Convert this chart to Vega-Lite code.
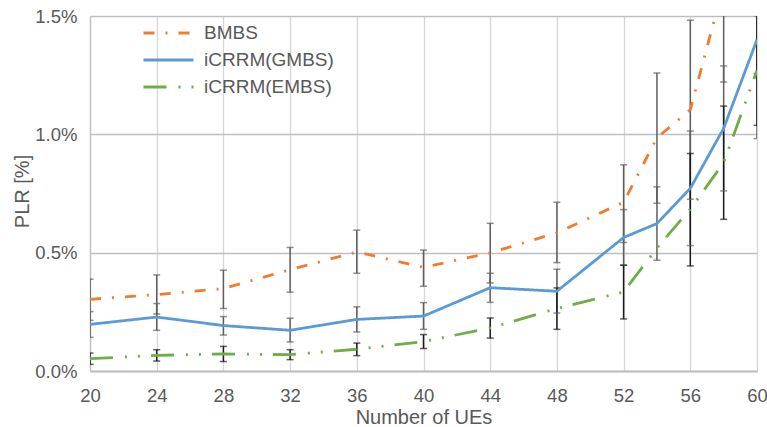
{
  "$schema": "https://vega.github.io/schema/vega-lite/v6.json",
  "width": 667,
  "height": 355,
  "autosize": {"type": "none"},
  "padding": {"left": 90, "top": 16, "right": 10, "bottom": 56},
  "background": "white",
  "config": {
    "view": {"stroke": null},
    "font": "Liberation Sans",
    "legend": {
      "orient": "none",
      "legendX": 52,
      "legendY": 7,
      "padding": 0,
      "symbolType": "stroke",
      "symbolSize": 2500,
      "symbolStrokeWidth": 3,
      "clipHeight": 20,
      "rowPadding": 7,
      "labelOffset": 9,
      "labelFontSize": 19,
      "labelColor": "#595959",
      "labelFont": "Liberation Sans"
    }
  },
  "data": {
    "values": [
      {"n": 20, "series": "BMBS", "plr": 0.303, "lo": 0.214, "hi": 0.388},
      {"n": 24, "series": "BMBS", "plr": 0.323, "lo": 0.241, "hi": 0.406},
      {"n": 28, "series": "BMBS", "plr": 0.348, "lo": 0.264, "hi": 0.426},
      {"n": 32, "series": "BMBS", "plr": 0.428, "lo": 0.333, "hi": 0.522},
      {"n": 36, "series": "BMBS", "plr": 0.503, "lo": 0.413, "hi": 0.595},
      {"n": 40, "series": "BMBS", "plr": 0.438, "lo": 0.358, "hi": 0.511},
      {"n": 44, "series": "BMBS", "plr": 0.499, "lo": 0.372, "hi": 0.624},
      {"n": 48, "series": "BMBS", "plr": 0.584, "lo": 0.458, "hi": 0.713},
      {"n": 52, "series": "BMBS", "plr": 0.713, "lo": 0.543, "hi": 0.871},
      {"n": 54, "series": "BMBS", "plr": 0.985, "lo": 0.709, "hi": 1.259},
      {"n": 56, "series": "BMBS", "plr": 1.104, "lo": 0.726, "hi": 1.482},
      {"n": 58, "series": "BMBS", "plr": 1.63, "lo": 1.221, "hi": 2.04},
      {"n": 60, "series": "BMBS", "plr": 2.2, "lo": 1.257, "hi": 3.14},
      {"n": 20, "series": "iCRRM(GMBS)", "plr": 0.197, "lo": 0.142, "hi": 0.251},
      {"n": 24, "series": "iCRRM(GMBS)", "plr": 0.228, "lo": 0.172, "hi": 0.285},
      {"n": 28, "series": "iCRRM(GMBS)", "plr": 0.192, "lo": 0.152, "hi": 0.23},
      {"n": 32, "series": "iCRRM(GMBS)", "plr": 0.172, "lo": 0.123, "hi": 0.223},
      {"n": 36, "series": "iCRRM(GMBS)", "plr": 0.218, "lo": 0.165, "hi": 0.271},
      {"n": 40, "series": "iCRRM(GMBS)", "plr": 0.232, "lo": 0.176, "hi": 0.289},
      {"n": 44, "series": "iCRRM(GMBS)", "plr": 0.352, "lo": 0.29, "hi": 0.413},
      {"n": 48, "series": "iCRRM(GMBS)", "plr": 0.337, "lo": 0.245, "hi": 0.43},
      {"n": 52, "series": "iCRRM(GMBS)", "plr": 0.564, "lo": 0.447, "hi": 0.682},
      {"n": 54, "series": "iCRRM(GMBS)", "plr": 0.623, "lo": 0.468, "hi": 0.778},
      {"n": 56, "series": "iCRRM(GMBS)", "plr": 0.772, "lo": 0.53, "hi": 1.014},
      {"n": 58, "series": "iCRRM(GMBS)", "plr": 1.025, "lo": 0.761, "hi": 1.289},
      {"n": 60, "series": "iCRRM(GMBS)", "plr": 1.4, "lo": 0.982, "hi": 1.818},
      {"n": 20, "series": "iCRRM(EMBS)", "plr": 0.052, "lo": 0.028, "hi": 0.076},
      {"n": 24, "series": "iCRRM(EMBS)", "plr": 0.066, "lo": 0.042, "hi": 0.09},
      {"n": 28, "series": "iCRRM(EMBS)", "plr": 0.072, "lo": 0.04, "hi": 0.104},
      {"n": 32, "series": "iCRRM(EMBS)", "plr": 0.069, "lo": 0.048, "hi": 0.09},
      {"n": 36, "series": "iCRRM(EMBS)", "plr": 0.092, "lo": 0.065, "hi": 0.118},
      {"n": 40, "series": "iCRRM(EMBS)", "plr": 0.124, "lo": 0.095, "hi": 0.154},
      {"n": 44, "series": "iCRRM(EMBS)", "plr": 0.182, "lo": 0.139, "hi": 0.224},
      {"n": 48, "series": "iCRRM(EMBS)", "plr": 0.264, "lo": 0.176, "hi": 0.351},
      {"n": 52, "series": "iCRRM(EMBS)", "plr": 0.334, "lo": 0.22, "hi": 0.447},
      {"n": 54, "series": "iCRRM(EMBS)", "plr": 0.52, "lo": null, "hi": null},
      {"n": 56, "series": "iCRRM(EMBS)", "plr": 0.684, "lo": 0.444, "hi": 0.919},
      {"n": 58, "series": "iCRRM(EMBS)", "plr": 0.88, "lo": 0.641, "hi": 1.119},
      {"n": 60, "series": "iCRRM(EMBS)", "plr": 1.27, "lo": 1.038, "hi": 1.502}
    ]
  },
  "layer": [
    {
      "transform": [{"filter": "datum.lo != null"}],
      "mark": {"type": "rule", "clip": true, "strokeWidth": 1.5},
      "encoding": {
        "x": {"field": "n", "type": "quantitative", "title": "Number of UEs"},
        "y": {"field": "lo", "type": "quantitative", "title": "PLR [%]"},
        "y2": {"field": "hi"},
        "color": {"condition": {"test": "datum.series === 'iCRRM(EMBS)'", "value": "#1a1a1a"}, "value": "#5e5e5e"}
      }
    },
    {
      "transform": [{"filter": "datum.lo != null"}],
      "mark": {"type": "tick", "orient": "horizontal", "clip": true, "size": 7, "thickness": 1.5},
      "encoding": {
        "x": {"field": "n", "type": "quantitative", "title": "Number of UEs"},
        "y": {"field": "lo", "type": "quantitative", "title": "PLR [%]"},
        "color": {"condition": {"test": "datum.series === 'iCRRM(EMBS)'", "value": "#1a1a1a"}, "value": "#5e5e5e"}
      }
    },
    {
      "transform": [{"filter": "datum.hi != null"}],
      "mark": {"type": "tick", "orient": "horizontal", "clip": true, "size": 7, "thickness": 1.5},
      "encoding": {
        "x": {"field": "n", "type": "quantitative", "title": "Number of UEs"},
        "y": {"field": "hi", "type": "quantitative", "title": "PLR [%]"},
        "color": {"condition": {"test": "datum.series === 'iCRRM(EMBS)'", "value": "#1a1a1a"}, "value": "#5e5e5e"}
      }
    },
    {
      "mark": {"type": "line", "clip": true, "strokeWidth": 2.8, "strokeCap": "butt"},
      "encoding": {
        "x": {
          "field": "n",
          "type": "quantitative",
          "title": "Number of UEs",
          "scale": {"domain": [20, 60], "nice": false, "zero": false},
          "axis": {
            "values": [20, 22, 24, 26, 28, 30, 32, 34, 36, 38, 40, 42, 44, 46, 48, 50, 52, 54, 56, 58, 60],
            "labelExpr": "datum.value % 4 === 0 ? datum.label : ''",
            "labelFlush": false,
            "labelBound": false,
            "grid": true,
            "gridColor": "#d6d6d6",
            "gridWidth": 1.3,
            "domainColor": "#bfbfbf",
            "domainWidth": 2,
            "ticks": false,
            "labelPadding": 15,
            "labelFontSize": 18.5,
            "labelColor": "#595959",
            "labelFont": "Liberation Sans",
            "labelOverlap": false,
            "titleFontSize": 20,
            "titleFontWeight": "normal",
            "titleColor": "#595959",
            "titleFont": "Liberation Sans",
            "titleBaseline": "alphabetic",
            "titleY": 52
          }
        },
        "y": {
          "field": "plr",
          "type": "quantitative",
          "title": "PLR [%]",
          "scale": {"domain": [0, 1.5], "nice": false},
          "axis": {
            "values": [0, 0.5, 1, 1.5],
            "labelExpr": "format(datum.value, '.1f') + '%'",
            "labelFlush": false,
            "grid": true,
            "gridColor": "#bfbfbf",
            "gridWidth": 1.3,
            "domainColor": "#bfbfbf",
            "domainWidth": 1.3,
            "ticks": false,
            "labelPadding": 13,
            "labelFontSize": 18.5,
            "labelColor": "#595959",
            "labelFont": "Liberation Sans",
            "titleFontSize": 20,
            "titleFontWeight": "normal",
            "titleColor": "#595959",
            "titleFont": "Liberation Sans",
            "titleX": -68,
            "titleY": 175,
            "titleBaseline": "middle"
          }
        },
        "color": {
          "field": "series",
          "type": "nominal",
          "title": null,
          "sort": ["BMBS", "iCRRM(GMBS)", "iCRRM(EMBS)"],
          "scale": {"domain": ["BMBS", "iCRRM(GMBS)", "iCRRM(EMBS)"], "range": ["#ED7D31", "#5B9BD5", "#70AD47"]}
        },
        "strokeDash": {
          "field": "series",
          "type": "nominal",
          "title": null,
          "sort": ["BMBS", "iCRRM(GMBS)", "iCRRM(EMBS)"],
          "scale": {"domain": ["BMBS", "iCRRM(GMBS)", "iCRRM(EMBS)"], "range": [[11, 11, 2, 11], [1, 0], [23, 12, 2, 11, 2, 11]]}
        }
      }
    }
  ]
}
